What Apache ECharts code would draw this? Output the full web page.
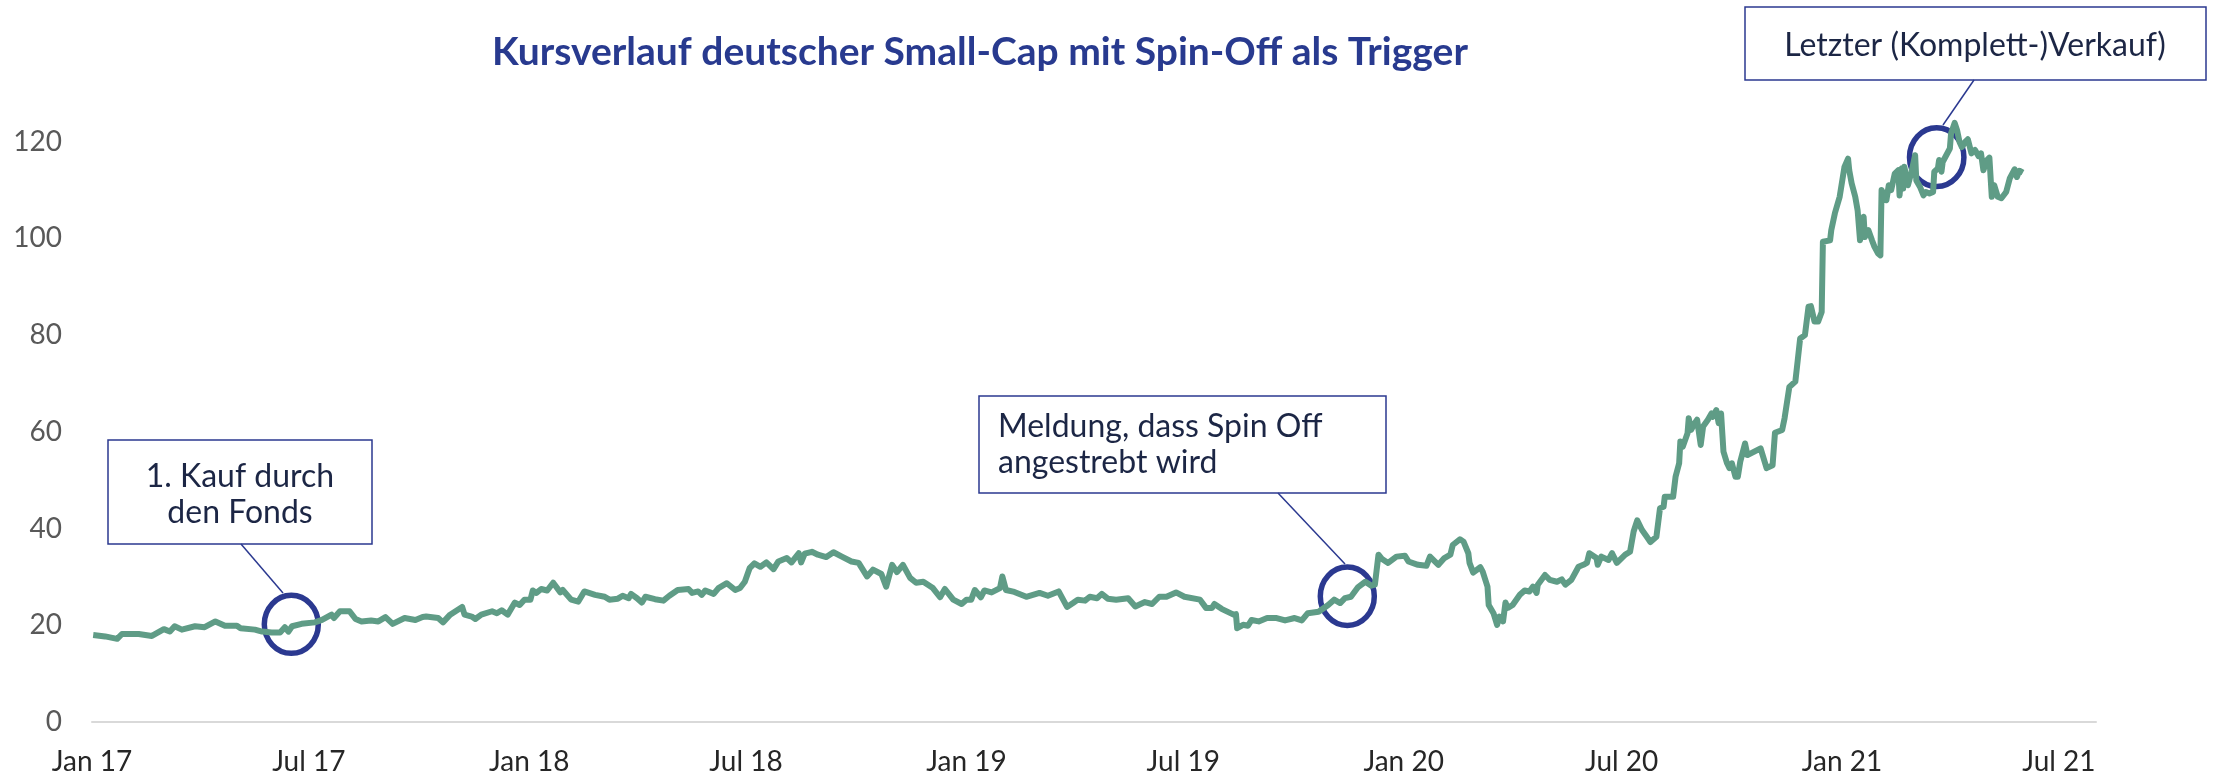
<!DOCTYPE html>
<html>
<head>
<meta charset="utf-8">
<title>Kursverlauf deutscher Small-Cap mit Spin-Off als Trigger</title>
<script src="https://cdn.jsdelivr.net/npm/echarts@6/dist/echarts.min.js"></script>
<style>
  html, body { margin: 0; padding: 0; background: #fff; }
  #chart { width: 2214px; height: 780px; }
</style>
</head>
<body>
<div id="chart"></div>
<script>

// Kursverlauf
var dates = [
  '2017-01-02','2017-01-12','2017-01-22','2017-01-26','2017-02-09','2017-02-20','2017-03-02','2017-03-07','2017-03-11','2017-03-17',
  '2017-03-28','2017-04-05','2017-04-14','2017-04-22','2017-05-02','2017-05-05','2017-05-17','2017-05-23','2017-05-31','2017-06-07',
  '2017-06-11','2017-06-14','2017-06-17','2017-06-25','2017-07-06','2017-07-12','2017-07-20','2017-07-22','2017-07-27','2017-08-04',
  '2017-08-09','2017-08-14','2017-08-22','2017-08-28','2017-09-03','2017-09-09','2017-09-19','2017-09-28','2017-10-04','2017-10-07',
  '2017-10-17','2017-10-21','2017-10-27','2017-11-06','2017-11-08','2017-11-14','2017-11-17','2017-11-22','2017-12-01','2017-12-05',
  '2017-12-09','2017-12-14','2017-12-20','2017-12-24','2017-12-28',
  '2018-01-02','2018-01-04','2018-01-07','2018-01-11','2018-01-16','2018-01-21','2018-01-27','2018-01-29','2018-02-05','2018-02-11',
  '2018-02-16','2018-02-25','2018-03-05','2018-03-09','2018-03-16','2018-03-20','2018-03-25','2018-03-27','2018-04-01','2018-04-05',
  '2018-04-08','2018-04-16','2018-04-23','2018-04-28','2018-05-05','2018-05-14','2018-05-17','2018-05-22','2018-05-25','2018-05-28',
  '2018-06-04','2018-06-08','2018-06-15','2018-06-22','2018-06-26','2018-06-30','2018-07-04','2018-07-08','2018-07-13','2018-07-18',
  '2018-07-24','2018-07-28','2018-08-04','2018-08-08','2018-08-14','2018-08-16','2018-08-19','2018-08-25','2018-08-30','2018-09-06',
  '2018-09-12','2018-09-19','2018-09-27','2018-10-03','2018-10-10','2018-10-15','2018-10-22','2018-10-26','2018-10-31','2018-11-04',
  '2018-11-09','2018-11-15','2018-11-20','2018-11-26','2018-12-04','2018-12-10','2018-12-14','2018-12-21','2018-12-28',
  '2019-01-01','2019-01-05','2019-01-08','2019-01-13','2019-01-16','2019-01-22','2019-01-29','2019-01-31','2019-02-03','2019-02-10',
  '2019-02-20','2019-03-03','2019-03-10','2019-03-19','2019-03-26','2019-03-31','2019-04-04','2019-04-10','2019-04-14','2019-04-20',
  '2019-04-24','2019-04-29','2019-05-06','2019-05-16','2019-05-22','2019-05-30','2019-06-05','2019-06-11','2019-06-17','2019-06-25',
  '2019-07-02','2019-07-15','2019-07-20','2019-07-25','2019-07-27','2019-08-02','2019-08-12','2019-08-14','2019-08-15','2019-08-20',
  '2019-08-24','2019-08-27','2019-09-02','2019-09-09','2019-09-17','2019-09-24','2019-10-02','2019-10-08','2019-10-13','2019-10-22',
  '2019-10-30','2019-11-04','2019-11-09','2019-11-13','2019-11-18','2019-11-24','2019-11-30','2019-12-05','2019-12-08','2019-12-11',
  '2019-12-14','2019-12-19','2019-12-26',
  '2020-01-02','2020-01-05','2020-01-13','2020-01-20','2020-01-23','2020-01-30','2020-02-04','2020-02-09','2020-02-11','2020-02-17',
  '2020-02-20','2020-02-24','2020-02-25','2020-02-28','2020-03-05','2020-03-07','2020-03-11','2020-03-12','2020-03-16','2020-03-19',
  '2020-03-21','2020-03-24','2020-03-26','2020-03-28','2020-04-01','2020-04-07','2020-04-11','2020-04-15','2020-04-18','2020-04-21',
  '2020-04-22','2020-04-28','2020-05-02','2020-05-08','2020-05-12','2020-05-15','2020-05-20','2020-05-26','2020-05-30','2020-06-02',
  '2020-06-04','2020-06-10','2020-06-11','2020-06-14','2020-06-20','2020-06-23','2020-06-27','2020-07-04','2020-07-08','2020-07-11',
  '2020-07-14','2020-07-18','2020-07-22','2020-07-25','2020-07-30','2020-08-02','2020-08-05','2020-08-06','2020-08-13','2020-08-15',
  '2020-08-18','2020-08-19','2020-08-21','2020-08-25','2020-08-26','2020-08-28','2020-08-31','2020-09-02','2020-09-05','2020-09-07',
  '2020-09-11','2020-09-14','2020-09-15','2020-09-18','2020-09-20','2020-09-22','2020-09-24','2020-09-27','2020-09-29','2020-10-01',
  '2020-10-04','2020-10-06','2020-10-08','2020-10-12','2020-10-14','2020-10-25','2020-10-30','2020-11-04','2020-11-06','2020-11-12',
  '2020-11-14','2020-11-18','2020-11-23','2020-11-25','2020-11-27','2020-12-01','2020-12-04','2020-12-06','2020-12-09','2020-12-12',
  '2020-12-15','2020-12-16','2020-12-22','2020-12-23','2020-12-26','2020-12-30',
  '2021-01-03','2021-01-06','2021-01-07','2021-01-09','2021-01-12','2021-01-14','2021-01-16','2021-01-19','2021-01-20','2021-01-23',
  '2021-01-26','2021-01-28','2021-01-31','2021-02-02','2021-02-03','2021-02-07','2021-02-09','2021-02-11','2021-02-14','2021-02-17',
  '2021-02-18','2021-02-20','2021-02-21','2021-02-22','2021-02-25','2021-02-28','2021-03-03','2021-03-04','2021-03-07','2021-03-10',
  '2021-03-12','2021-03-15','2021-03-18','2021-03-19','2021-03-22','2021-03-23','2021-03-25','2021-03-26','2021-03-29','2021-04-01',
  '2021-04-02','2021-04-05','2021-04-07','2021-04-09','2021-04-11','2021-04-14','2021-04-16','2021-04-19','2021-04-22','2021-04-25',
  '2021-04-27','2021-04-29','2021-05-02','2021-05-04','2021-05-06','2021-05-08','2021-05-11','2021-05-14','2021-05-18','2021-05-21',
  '2021-05-25','2021-05-27','2021-05-29','2021-06-01'
];

var prices = [
  18.0,17.7,17.2,18.2,18.2,17.8,19.2,18.7,19.8,19.1,
  19.8,19.6,20.8,19.9,19.9,19.4,19.1,18.7,18.5,18.5,
  19.6,18.7,19.8,20.3,20.6,21.1,22.2,21.5,22.9,22.9,
  21.3,20.8,21.0,20.8,21.7,20.3,21.5,21.1,21.7,21.8,
  21.5,20.6,22.2,23.8,22.2,21.8,21.3,22.2,22.9,22.5,
  23.1,22.2,24.7,24.2,25.3,
  25.3,27.2,26.7,27.5,27.2,28.8,26.8,27.3,25.3,24.9,
  27.0,26.3,25.9,25.3,25.5,26.1,25.6,26.5,25.6,24.7,
  25.9,25.4,25.1,26.1,27.3,27.5,26.7,27.0,26.3,27.2,
  26.5,27.7,28.7,27.3,27.7,29.0,31.8,32.8,32.1,33.0,
  31.6,33.2,33.9,33.0,34.9,33.0,34.8,35.2,34.6,34.1,
  35.1,34.2,33.2,32.9,30.1,31.5,30.6,28.0,32.5,31.0,
  32.5,29.8,28.8,29.0,27.7,25.8,27.5,25.3,24.4,
  25.3,25.3,27.3,25.8,27.2,26.8,27.7,30.1,27.3,26.9,
  25.9,26.7,26.1,27.0,23.8,24.6,25.3,25.1,25.9,25.6,
  26.5,25.5,25.3,25.6,23.9,24.8,24.4,25.9,25.9,26.8,
  25.9,25.3,23.6,23.6,24.4,23.4,22.2,22.3,19.4,20.1,
  19.9,21.1,20.8,21.5,21.5,21.0,21.5,21.0,22.5,22.8,
  24.2,25.3,24.6,25.6,25.9,27.9,29.0,28.2,28.4,34.6,
  33.7,32.9,34.2,
  34.4,33.2,32.5,32.3,34.2,32.5,33.9,34.6,36.6,37.8,
  37.3,34.9,32.9,30.9,32.0,31.1,28.0,24.2,22.5,20.1,
  21.8,20.8,24.7,23.6,24.2,26.3,27.2,27.0,28.0,26.7,
  28.4,30.4,29.4,29.0,29.5,28.4,29.4,32.1,32.5,32.9,
  34.9,33.9,32.5,34.2,33.5,34.9,32.9,34.6,35.2,39.4,
  41.7,39.7,38.3,37.2,38.3,44.2,44.5,46.6,46.6,50.7,
  53.5,58.0,56.9,59.7,62.8,60.4,61.8,62.5,57.3,61.1,
  62.5,63.8,63.1,64.5,61.8,63.8,55.9,53.5,52.5,53.5,
  50.7,50.7,53.8,57.6,55.2,56.6,52.5,53.1,59.8,60.4,
  62.8,69.3,70.4,74.8,79.3,80.0,85.9,86.0,82.8,82.8,
  84.8,99.3,99.6,101.7,105.2,108.6,
  114.8,116.5,114.1,111.4,108.6,105.8,99.6,104.5,100.3,101.7,
  99.6,98.3,96.9,96.5,110.0,107.9,111.0,110.0,113.4,114.1,
  108.9,114.5,110.3,114.8,111.0,113.8,117.2,112.0,110.7,108.9,
  109.6,109.3,109.6,113.8,114.5,116.2,113.8,115.8,117.2,118.6,
  121.7,123.9,122.4,120.0,118.9,120.0,120.5,117.6,118.3,117.0,
  117.6,114.1,116.2,116.7,108.6,111.0,108.6,108.3,109.6,112.4,
  114.3,112.7,114.0,113.6
];

// Achsenbeschriftung
var xTickDates = ['2017-01-01','2017-07-01','2018-01-01','2018-07-01','2019-01-01','2019-07-01','2020-01-01','2020-07-01','2021-01-01','2021-07-01'];
var xTickLabels = ['Jan 17','Jul 17','Jan 18','Jul 18','Jan 19','Jul 19','Jan 20','Jul 20','Jan 21','Jul 21'];

function toTime(s) {
  var p = s.split('-');
  return new Date(+p[0], +p[1] - 1, +p[2]).getTime();
}

var xTickValues = xTickDates.map(toTime);
var seriesData = dates.map(function (d, i) { return [toTime(d), prices[i]]; });

var navy = '#2b3990';
var textNavy = '#1c2645';

var chart = echarts.init(document.getElementById('chart'));
chart.setOption({
  animation: false,
  backgroundColor: '#fff',
  title: {
    text: 'Kursverlauf deutscher Small-Cap mit Spin-Off als Trigger',
    left: 487,
    top: 28,
    textStyle: {
      fontFamily: 'Lato',
      fontWeight: 'bold',
      fontSize: 39,
      color: '#283a8f'
    }
  },
  grid: {
    left: 92,
    right: 118,
    top: 45,
    bottom: 58
  },
  // Zeitachse als Werteachse (Zeitstempel), Beschriftung nur an Jan/Jul
  xAxis: {
    type: 'value',
    min: toTime('2017-01-01'),
    max: toTime('2021-08-01'),
    axisLine: { lineStyle: { color: '#d9d9d9', width: 2 } },
    axisTick: { show: false },
    splitLine: { show: false },
    axisLabel: {
      customValues: xTickValues,
      color: '#262626',
      fontFamily: 'Lato',
      fontSize: 28,
      margin: 26,
      formatter: function (value) {
        var best = 0;
        for (var i = 1; i < xTickValues.length; i++) {
          if (Math.abs(xTickValues[i] - value) < Math.abs(xTickValues[best] - value)) best = i;
        }
        return xTickLabels[best];
      }
    }
  },
  yAxis: {
    type: 'value',
    min: 0,
    max: 140,
    interval: 20,
    axisLine: { show: false },
    axisTick: { show: false },
    splitLine: { show: false },
    axisLabel: {
      color: '#595959',
      fontFamily: 'Lato',
      fontSize: 28,
      margin: 30,
      formatter: function (value) {
        return value >= 140 ? '' : value + '';
      }
    }
  },
  series: [
    {
      name: 'Kurs',
      type: 'line',
      data: seriesData,
      showSymbol: false,
      clip: false,
      lineStyle: { color: '#5f9c86', width: 6, join: 'round' },
      itemStyle: { color: '#5f9c86' }
    }
  ],
  graphic: [
    // 1. Kauf
    { type: 'rect', shape: { x: 108, y: 440, width: 264, height: 104 }, style: { fill: '#fff', stroke: navy, lineWidth: 1.5 } },
    { type: 'text', x: 240, y: 495, style: { text: '1. Kauf durch\nden Fonds', fill: textNavy, font: '32px Lato', textAlign: 'center', textVerticalAlign: 'middle', lineHeight: 36 } },
    { type: 'line', shape: { x1: 241, y1: 544, x2: 283, y2: 593 }, style: { stroke: navy, lineWidth: 1.5 } },
    { type: 'ellipse', shape: { cx: 291.3, cy: 624.3, rx: 27, ry: 29 }, style: { fill: 'none', stroke: navy, lineWidth: 5.5 } },

    // Meldung Spin Off
    { type: 'rect', shape: { x: 979, y: 396, width: 407, height: 97 }, style: { fill: '#fff', stroke: navy, lineWidth: 1.5 } },
    { type: 'text', x: 998, y: 445, style: { text: 'Meldung, dass Spin Off\nangestrebt wird', fill: textNavy, font: '32px Lato', textAlign: 'left', textVerticalAlign: 'middle', lineHeight: 36 } },
    { type: 'line', shape: { x1: 1278, y1: 493, x2: 1345, y2: 564 }, style: { stroke: navy, lineWidth: 1.5 } },
    { type: 'ellipse', shape: { cx: 1347.3, cy: 596.3, rx: 27, ry: 29.2 }, style: { fill: 'none', stroke: navy, lineWidth: 5.5 } },

    // Letzter Verkauf
    { type: 'rect', shape: { x: 1745, y: 7, width: 461, height: 73 }, style: { fill: '#fff', stroke: navy, lineWidth: 1.5 } },
    { type: 'text', x: 1975, y: 46, style: { text: 'Letzter (Komplett-)Verkauf)', fill: textNavy, font: '32px Lato', textAlign: 'center', textVerticalAlign: 'middle' } },
    { type: 'line', shape: { x1: 1974, y1: 80, x2: 1943, y2: 125 }, style: { stroke: navy, lineWidth: 1.5 } },
    { type: 'ellipse', shape: { cx: 1936.7, cy: 157.2, rx: 27.2, ry: 29.4 }, style: { fill: 'none', stroke: navy, lineWidth: 5.5 } }
  ]
});

</script>
</body>
</html>
